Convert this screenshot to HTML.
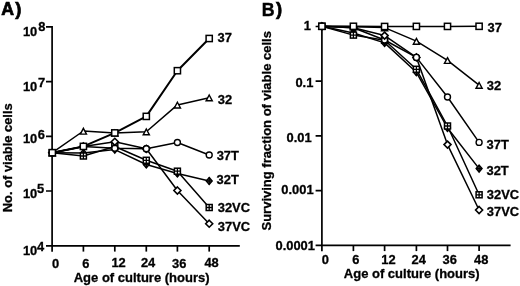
<!DOCTYPE html>
<html><head><meta charset="utf-8"><style>
html,body{margin:0;padding:0;background:#fff;}
svg{display:block;will-change:transform;}
text{font-family:"Liberation Sans", sans-serif;font-weight:bold;}
.t{fill:#000;stroke:#000;stroke-width:0.3px;}
</style></head><body>
<svg width="520" height="286" viewBox="0 0 520 286">
<text class="t" transform="translate(1.15,15.15) scale(0.96,1.03)" font-size="18.5" style="stroke-width:0.7px">A</text>
<text class="t" transform="translate(15.37,15.15) scale(1.0,1.03)" font-size="18.5" style="stroke-width:0.7px">)</text>
<path d="M52.1 26.0V251.8M46 26.8H52.9M46 81.6H52.1M46 136.3H52.1M46 191H52.1M46 245.8H239.8" stroke="#000" stroke-width="1.7" fill="none"/>
<path d="M83.4 245.8V251.6" stroke="#000" stroke-width="1.7"/>
<path d="M114.8 245.8V251.6" stroke="#000" stroke-width="1.7"/>
<path d="M146.3 245.8V251.6" stroke="#000" stroke-width="1.7"/>
<path d="M177.4 245.8V251.6" stroke="#000" stroke-width="1.7"/>
<path d="M209.2 245.8V251.6" stroke="#000" stroke-width="1.7"/>
<text class="t" x="22.9" y="36.4" font-size="12.9">10</text>
<text class="t" x="38.22" y="31.4" font-size="12.9">8</text>
<text class="t" x="22.9" y="91.3" font-size="12.9">10</text>
<text class="t" x="37.91" y="86.8" font-size="12.9">7</text>
<text class="t" x="22.9" y="143.1" font-size="12.9">10</text>
<text class="t" x="37.64" y="138.5" font-size="12.9">6</text>
<text class="t" x="22.9" y="197.9" font-size="12.9">10</text>
<text class="t" x="36.91" y="193.3" font-size="12.9">5</text>
<text class="t" x="22.9" y="254.6" font-size="12.9">10</text>
<text class="t" x="37.0" y="251.2" font-size="12.9">4</text>
<text class="t" x="52.01" y="267.5" font-size="12.9">0</text>
<text class="t" x="82.19" y="267.5" font-size="12.9">6</text>
<text class="t" x="111.4" y="266.5" font-size="12.9">12</text>
<text class="t" x="140.88" y="266.5" font-size="12.9">24</text>
<text class="t" x="171.99" y="267.5" font-size="12.9">36</text>
<text class="t" x="204.41" y="266.5" font-size="12.9">48</text>
<text class="t" x="73.72" y="281.8" font-size="13.0">Age of culture (hours)</text>
<text class="t" transform="translate(12.4,212.2) rotate(-90)" font-size="12.9">No. of viable cells</text>
<polyline points="52.30,152.70 83.40,153.00 114.80,149.60 146.30,164.50 177.40,173.50 209.20,181.00" fill="none" stroke="#000" stroke-width="1.5" stroke-linejoin="round"/>
<polyline points="52.30,152.70 83.40,156.00 114.80,146.50 146.30,160.30 177.40,171.20 209.20,207.50" fill="none" stroke="#000" stroke-width="1.5" stroke-linejoin="round"/>
<polyline points="52.30,152.70 83.40,146.50 114.80,148.20 146.30,148.80 177.40,142.50 209.20,155.00" fill="none" stroke="#000" stroke-width="1.5" stroke-linejoin="round"/>
<polyline points="52.30,152.70 83.40,146.50 114.80,141.80 146.30,148.80 177.40,190.50 209.20,223.70" fill="none" stroke="#000" stroke-width="1.5" stroke-linejoin="round"/>
<polyline points="52.30,152.70 83.40,131.00 114.80,132.90 146.30,131.70 177.40,104.90 209.20,97.70" fill="none" stroke="#000" stroke-width="1.5" stroke-linejoin="round"/>
<polyline points="52.30,152.70 83.40,146.40 114.80,132.90 146.30,116.40 177.40,70.70 209.20,38.50" fill="none" stroke="#000" stroke-width="2.0" stroke-linejoin="round"/>
<path d="M52.30 149.30L55.20 152.70L52.30 156.10L49.40 152.70Z" fill="#888" stroke="#000" stroke-width="1.5"/><path d="M49.40 152.70H55.20M52.30 149.30V156.10" stroke="#000" stroke-width="1.4"/>
<path d="M83.40 149.60L86.30 153.00L83.40 156.40L80.50 153.00Z" fill="#888" stroke="#000" stroke-width="1.5"/><path d="M80.50 153.00H86.30M83.40 149.60V156.40" stroke="#000" stroke-width="1.4"/>
<path d="M114.80 146.20L117.70 149.60L114.80 153.00L111.90 149.60Z" fill="#888" stroke="#000" stroke-width="1.5"/><path d="M111.90 149.60H117.70M114.80 146.20V153.00" stroke="#000" stroke-width="1.4"/>
<path d="M146.30 161.10L149.20 164.50L146.30 167.90L143.40 164.50Z" fill="#888" stroke="#000" stroke-width="1.5"/><path d="M143.40 164.50H149.20M146.30 161.10V167.90" stroke="#000" stroke-width="1.4"/>
<path d="M177.40 170.10L180.30 173.50L177.40 176.90L174.50 173.50Z" fill="#888" stroke="#000" stroke-width="1.5"/><path d="M174.50 173.50H180.30M177.40 170.10V176.90" stroke="#000" stroke-width="1.4"/>
<path d="M209.20 177.60L212.10 181.00L209.20 184.40L206.30 181.00Z" fill="#888" stroke="#000" stroke-width="1.5"/><path d="M206.30 181.00H212.10M209.20 177.60V184.40" stroke="#000" stroke-width="1.4"/>
<rect x="49.30" y="149.70" width="6.00" height="6.00" fill="#fff" stroke="#000" stroke-width="1.5"/><path d="M49.30 152.70H55.30M52.30 149.70V155.70" stroke="#000" stroke-width="1.3"/>
<rect x="80.40" y="153.00" width="6.00" height="6.00" fill="#fff" stroke="#000" stroke-width="1.5"/><path d="M80.40 156.00H86.40M83.40 153.00V159.00" stroke="#000" stroke-width="1.3"/>
<rect x="111.80" y="143.50" width="6.00" height="6.00" fill="#fff" stroke="#000" stroke-width="1.5"/><path d="M111.80 146.50H117.80M114.80 143.50V149.50" stroke="#000" stroke-width="1.3"/>
<rect x="143.30" y="157.30" width="6.00" height="6.00" fill="#fff" stroke="#000" stroke-width="1.5"/><path d="M143.30 160.30H149.30M146.30 157.30V163.30" stroke="#000" stroke-width="1.3"/>
<rect x="174.40" y="168.20" width="6.00" height="6.00" fill="#fff" stroke="#000" stroke-width="1.5"/><path d="M174.40 171.20H180.40M177.40 168.20V174.20" stroke="#000" stroke-width="1.3"/>
<rect x="206.20" y="204.50" width="6.00" height="6.00" fill="#fff" stroke="#000" stroke-width="1.5"/><path d="M206.20 207.50H212.20M209.20 204.50V210.50" stroke="#000" stroke-width="1.3"/>
<circle cx="52.30" cy="152.70" r="3.0" fill="#fff" stroke="#000" stroke-width="1.4"/>
<circle cx="83.40" cy="146.50" r="3.0" fill="#fff" stroke="#000" stroke-width="1.4"/>
<circle cx="114.80" cy="148.20" r="3.0" fill="#fff" stroke="#000" stroke-width="1.4"/>
<circle cx="146.30" cy="148.80" r="3.0" fill="#fff" stroke="#000" stroke-width="1.4"/>
<circle cx="177.40" cy="142.50" r="3.0" fill="#fff" stroke="#000" stroke-width="1.4"/>
<circle cx="209.20" cy="155.00" r="3.0" fill="#fff" stroke="#000" stroke-width="1.4"/>
<path d="M52.30 149.20L55.80 152.70L52.30 156.20L48.80 152.70Z" fill="#fff" stroke="#000" stroke-width="1.6"/>
<path d="M83.40 143.00L86.90 146.50L83.40 150.00L79.90 146.50Z" fill="#fff" stroke="#000" stroke-width="1.6"/>
<path d="M114.80 138.30L118.30 141.80L114.80 145.30L111.30 141.80Z" fill="#fff" stroke="#000" stroke-width="1.6"/>
<path d="M146.30 145.30L149.80 148.80L146.30 152.30L142.80 148.80Z" fill="#fff" stroke="#000" stroke-width="1.6"/>
<path d="M177.40 187.00L180.90 190.50L177.40 194.00L173.90 190.50Z" fill="#fff" stroke="#000" stroke-width="1.6"/>
<path d="M209.20 220.20L212.70 223.70L209.20 227.20L205.70 223.70Z" fill="#fff" stroke="#000" stroke-width="1.6"/>
<path d="M52.30 150.02L55.38 155.80H49.22Z" fill="#fff" stroke="#000" stroke-width="1.4" stroke-linejoin="miter"/>
<path d="M83.40 128.32L86.48 134.10H80.32Z" fill="#fff" stroke="#000" stroke-width="1.4" stroke-linejoin="miter"/>
<path d="M114.80 130.22L117.88 136.00H111.72Z" fill="#fff" stroke="#000" stroke-width="1.4" stroke-linejoin="miter"/>
<path d="M146.30 129.02L149.38 134.80H143.22Z" fill="#fff" stroke="#000" stroke-width="1.4" stroke-linejoin="miter"/>
<path d="M177.40 102.22L180.48 108.00H174.32Z" fill="#fff" stroke="#000" stroke-width="1.4" stroke-linejoin="miter"/>
<path d="M209.20 95.02L212.28 100.80H206.12Z" fill="#fff" stroke="#000" stroke-width="1.4" stroke-linejoin="miter"/>
<rect x="49.20" y="149.60" width="6.20" height="6.20" fill="#fff" stroke="#000" stroke-width="1.5"/>
<rect x="80.30" y="143.30" width="6.20" height="6.20" fill="#fff" stroke="#000" stroke-width="1.5"/>
<rect x="111.70" y="129.80" width="6.20" height="6.20" fill="#fff" stroke="#000" stroke-width="1.5"/>
<rect x="143.20" y="113.30" width="6.20" height="6.20" fill="#fff" stroke="#000" stroke-width="1.5"/>
<rect x="174.30" y="67.60" width="6.20" height="6.20" fill="#fff" stroke="#000" stroke-width="1.5"/>
<rect x="206.10" y="35.40" width="6.20" height="6.20" fill="#fff" stroke="#000" stroke-width="1.5"/>
<circle cx="146.30" cy="148.80" r="3.0" fill="#fff" stroke="#000" stroke-width="1.4"/>
<text class="t" x="217.58" y="41.7" font-size="12.9">37</text>
<text class="t" x="217.83" y="103.9" font-size="12.9">32</text>
<text class="t" x="216.71" y="159.6" font-size="12.9">37T</text>
<text class="t" x="216.62" y="184.3" font-size="12.9">32T</text>
<text class="t" x="217.77" y="212.4" font-size="12.9">32VC</text>
<text class="t" x="217.82" y="230.8" font-size="12.9">37VC</text>
<text class="t" transform="translate(261.64,16.4) scale(0.96,1.0)" font-size="18.5" style="stroke-width:0.45px">B</text>
<text class="t" transform="translate(276.02,15.3) scale(1.0,1.03)" font-size="18.5" style="stroke-width:0.7px">)</text>
<path d="M321.9 25.8V251.2M315.6 26.5H322.7M315.6 81.1H321.9M315.6 135.8H321.9M315.6 190.7H321.9M315.6 245.4H510.6" stroke="#000" stroke-width="1.7" fill="none"/>
<path d="M353.4 245.4V251.1" stroke="#000" stroke-width="1.7"/>
<path d="M384.6 245.4V251.1" stroke="#000" stroke-width="1.7"/>
<path d="M416.4 245.4V251.1" stroke="#000" stroke-width="1.7"/>
<path d="M447.5 245.4V251.1" stroke="#000" stroke-width="1.7"/>
<path d="M479.1 245.4V251.1" stroke="#000" stroke-width="1.7"/>
<text class="t" x="303.8" y="29.9" font-size="12.9">1</text>
<text class="t" x="295.4" y="87.4" font-size="12.9">0.1</text>
<text class="t" x="286.6" y="141.6" font-size="12.9">0.01</text>
<text class="t" x="281.3" y="193.8" font-size="12.9">0.001</text>
<text class="t" x="275.5" y="250.1" font-size="12.9">0.0001</text>
<text class="t" x="321.66" y="264.1" font-size="12.9">0</text>
<text class="t" x="352.18" y="264.1" font-size="12.9">6</text>
<text class="t" x="381.3" y="264.1" font-size="12.9">12</text>
<text class="t" x="411.62" y="264.1" font-size="12.9">24</text>
<text class="t" x="442.61" y="264.1" font-size="12.9">36</text>
<text class="t" x="474.07" y="264.1" font-size="12.9">48</text>
<text class="t" x="343.81" y="278.0" font-size="13.0">Age of culture (hours)</text>
<text class="t" transform="translate(270.8,230.5) rotate(-90)" font-size="13.0">Surviving fraction of viable cells</text>
<polyline points="321.90,26.30 353.40,33.00 384.60,42.90 416.40,72.30 447.50,128.00 479.10,168.60" fill="none" stroke="#000" stroke-width="1.5" stroke-linejoin="round"/>
<polyline points="321.90,26.30 353.40,35.10 384.60,40.30 416.40,69.30 447.50,126.00 479.10,194.80" fill="none" stroke="#000" stroke-width="1.5" stroke-linejoin="round"/>
<polyline points="321.90,26.30 353.40,27.70 384.60,40.00 416.40,57.40 447.50,97.00 479.10,142.40" fill="none" stroke="#000" stroke-width="1.5" stroke-linejoin="round"/>
<polyline points="321.90,26.30 353.40,27.70 384.60,35.60 416.40,57.40 447.50,144.60 479.10,210.00" fill="none" stroke="#000" stroke-width="1.5" stroke-linejoin="round"/>
<polyline points="321.90,26.30 353.40,26.80 384.60,27.60 416.40,41.10 447.50,60.30 479.10,85.20" fill="none" stroke="#000" stroke-width="1.5" stroke-linejoin="round"/>
<polyline points="321.90,26.30 353.40,26.30 384.60,26.50 416.40,26.40 447.50,26.40 479.10,26.30" fill="none" stroke="#000" stroke-width="1.5" stroke-linejoin="round"/>
<path d="M321.90 22.90L324.80 26.30L321.90 29.70L319.00 26.30Z" fill="#888" stroke="#000" stroke-width="1.5"/><path d="M319.00 26.30H324.80M321.90 22.90V29.70" stroke="#000" stroke-width="1.4"/>
<path d="M353.40 29.60L356.30 33.00L353.40 36.40L350.50 33.00Z" fill="#888" stroke="#000" stroke-width="1.5"/><path d="M350.50 33.00H356.30M353.40 29.60V36.40" stroke="#000" stroke-width="1.4"/>
<path d="M384.60 39.50L387.50 42.90L384.60 46.30L381.70 42.90Z" fill="#888" stroke="#000" stroke-width="1.5"/><path d="M381.70 42.90H387.50M384.60 39.50V46.30" stroke="#000" stroke-width="1.4"/>
<path d="M416.40 68.90L419.30 72.30L416.40 75.70L413.50 72.30Z" fill="#888" stroke="#000" stroke-width="1.5"/><path d="M413.50 72.30H419.30M416.40 68.90V75.70" stroke="#000" stroke-width="1.4"/>
<path d="M447.50 124.60L450.40 128.00L447.50 131.40L444.60 128.00Z" fill="#888" stroke="#000" stroke-width="1.5"/><path d="M444.60 128.00H450.40M447.50 124.60V131.40" stroke="#000" stroke-width="1.4"/>
<path d="M479.10 165.20L482.00 168.60L479.10 172.00L476.20 168.60Z" fill="#888" stroke="#000" stroke-width="1.5"/><path d="M476.20 168.60H482.00M479.10 165.20V172.00" stroke="#000" stroke-width="1.4"/>
<rect x="318.90" y="23.30" width="6.00" height="6.00" fill="#fff" stroke="#000" stroke-width="1.5"/><path d="M318.90 26.30H324.90M321.90 23.30V29.30" stroke="#000" stroke-width="1.3"/>
<rect x="350.40" y="32.10" width="6.00" height="6.00" fill="#fff" stroke="#000" stroke-width="1.5"/><path d="M350.40 35.10H356.40M353.40 32.10V38.10" stroke="#000" stroke-width="1.3"/>
<rect x="381.60" y="37.30" width="6.00" height="6.00" fill="#fff" stroke="#000" stroke-width="1.5"/><path d="M381.60 40.30H387.60M384.60 37.30V43.30" stroke="#000" stroke-width="1.3"/>
<rect x="413.40" y="66.30" width="6.00" height="6.00" fill="#fff" stroke="#000" stroke-width="1.5"/><path d="M413.40 69.30H419.40M416.40 66.30V72.30" stroke="#000" stroke-width="1.3"/>
<rect x="444.50" y="123.00" width="6.00" height="6.00" fill="#fff" stroke="#000" stroke-width="1.5"/><path d="M444.50 126.00H450.50M447.50 123.00V129.00" stroke="#000" stroke-width="1.3"/>
<rect x="476.10" y="191.80" width="6.00" height="6.00" fill="#fff" stroke="#000" stroke-width="1.5"/><path d="M476.10 194.80H482.10M479.10 191.80V197.80" stroke="#000" stroke-width="1.3"/>
<circle cx="321.90" cy="26.30" r="3.0" fill="#fff" stroke="#000" stroke-width="1.4"/>
<circle cx="353.40" cy="27.70" r="3.0" fill="#fff" stroke="#000" stroke-width="1.4"/>
<circle cx="384.60" cy="40.00" r="3.0" fill="#fff" stroke="#000" stroke-width="1.4"/>
<circle cx="416.40" cy="57.40" r="3.0" fill="#fff" stroke="#000" stroke-width="1.4"/>
<circle cx="447.50" cy="97.00" r="3.0" fill="#fff" stroke="#000" stroke-width="1.4"/>
<circle cx="479.10" cy="142.40" r="3.0" fill="#fff" stroke="#000" stroke-width="1.4"/>
<path d="M321.90 22.80L325.40 26.30L321.90 29.80L318.40 26.30Z" fill="#fff" stroke="#000" stroke-width="1.6"/>
<path d="M353.40 24.20L356.90 27.70L353.40 31.20L349.90 27.70Z" fill="#fff" stroke="#000" stroke-width="1.6"/>
<path d="M384.60 32.10L388.10 35.60L384.60 39.10L381.10 35.60Z" fill="#fff" stroke="#000" stroke-width="1.6"/>
<path d="M416.40 53.90L419.90 57.40L416.40 60.90L412.90 57.40Z" fill="#fff" stroke="#000" stroke-width="1.6"/>
<path d="M447.50 141.10L451.00 144.60L447.50 148.10L444.00 144.60Z" fill="#fff" stroke="#000" stroke-width="1.6"/>
<path d="M479.10 206.50L482.60 210.00L479.10 213.50L475.60 210.00Z" fill="#fff" stroke="#000" stroke-width="1.6"/>
<path d="M321.90 23.62L324.98 29.40H318.82Z" fill="#fff" stroke="#000" stroke-width="1.4" stroke-linejoin="miter"/>
<path d="M353.40 24.12L356.48 29.90H350.32Z" fill="#fff" stroke="#000" stroke-width="1.4" stroke-linejoin="miter"/>
<path d="M384.60 24.92L387.68 30.70H381.52Z" fill="#fff" stroke="#000" stroke-width="1.4" stroke-linejoin="miter"/>
<path d="M416.40 38.42L419.48 44.20H413.32Z" fill="#fff" stroke="#000" stroke-width="1.4" stroke-linejoin="miter"/>
<path d="M447.50 57.62L450.58 63.40H444.42Z" fill="#fff" stroke="#000" stroke-width="1.4" stroke-linejoin="miter"/>
<path d="M479.10 82.52L482.18 88.30H476.02Z" fill="#fff" stroke="#000" stroke-width="1.4" stroke-linejoin="miter"/>
<rect x="318.80" y="23.20" width="6.20" height="6.20" fill="#fff" stroke="#000" stroke-width="1.5"/>
<rect x="350.30" y="23.20" width="6.20" height="6.20" fill="#fff" stroke="#000" stroke-width="1.5"/>
<rect x="381.50" y="23.40" width="6.20" height="6.20" fill="#fff" stroke="#000" stroke-width="1.5"/>
<rect x="413.30" y="23.30" width="6.20" height="6.20" fill="#fff" stroke="#000" stroke-width="1.5"/>
<rect x="444.40" y="23.30" width="6.20" height="6.20" fill="#fff" stroke="#000" stroke-width="1.5"/>
<rect x="476.00" y="23.20" width="6.20" height="6.20" fill="#fff" stroke="#000" stroke-width="1.5"/>
<circle cx="416.40" cy="57.40" r="3.0" fill="#fff" stroke="#000" stroke-width="1.4"/>
<text class="t" x="487.58" y="31.7" font-size="12.9">37</text>
<text class="t" x="486.75" y="90.4" font-size="12.9">32</text>
<text class="t" x="486.59" y="148.9" font-size="12.9">37T</text>
<text class="t" x="486.5" y="174.8" font-size="12.9">32T</text>
<text class="t" x="486.8" y="199.3" font-size="12.9">32VC</text>
<text class="t" x="486.84" y="215.5" font-size="12.9">37VC</text>
</svg>
</body></html>
